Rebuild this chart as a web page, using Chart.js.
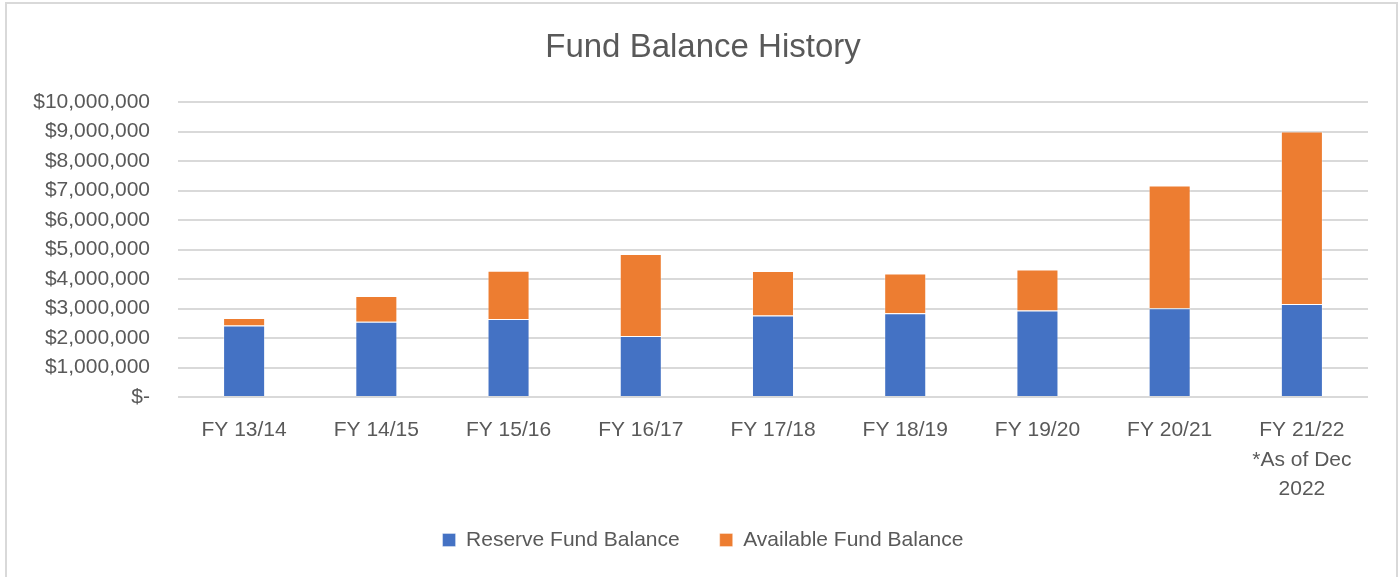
<!DOCTYPE html>
<html>
<head>
<meta charset="utf-8">
<script src="https://cdn.jsdelivr.net/npm/chart.js@4.4.1/dist/chart.umd.min.js"></script>
<style>
  html, body { margin: 0; padding: 0; background: #ffffff; }
  #wrap { position: relative; width: 1400px; height: 577px; overflow: hidden; }
  #frame { position: absolute; left: 5px; top: 2px; width: 1389px; height: 700px;
           border: 2px solid #d9d9d9; box-sizing: content-box; }
  canvas { position: absolute; left: 0; top: 0; }
</style>
</head>
<body>
<div id="wrap">
  <div id="frame"></div>
  <canvas id="c" width="1400" height="577"></canvas>
</div>
<script>
const chartTitle = 'Fund Balance History';
const categories = [
  'FY 13/14', 'FY 14/15', 'FY 15/16', 'FY 16/17', 'FY 17/18',
  'FY 18/19', 'FY 19/20', 'FY 20/21', ['FY 21/22', '*As of Dec', '2022']
];
const reserveLabel = 'Reserve Fund Balance';
const availableLabel = 'Available Fund Balance';
const reserveValues = [2420000, 2550000, 2640000, 2070000, 2760000, 2840000, 2930000, 3010000, 3150000];
const availableValues = [260000, 870000, 1640000, 2780000, 1510000, 1350000, 1390000, 4160000, 5850000];
const yMin = 0;
const yMax = 10000000;
const yStep = 1000000;

const textColor = '#595959';
const fontFamily = "'Liberation Sans', Arial, sans-serif";

Chart.defaults.font.family = fontFamily;
Chart.defaults.color = textColor;

// let tick labels extend past their axis box (no clipping)
const noLabelClip = (scale) => { scale._computeLabelArea = () => null; };

new Chart(document.getElementById('c'), {
  type: 'bar',
  data: {
    labels: categories,
    datasets: [
      {
        label: reserveLabel,
        data: reserveValues,
        backgroundColor: '#4472C4',
        borderColor: 'rgba(255,255,255,0.35)',
        borderWidth: 1,
        categoryPercentage: 1,
        barPercentage: 0.318
      },
      {
        label: availableLabel,
        data: availableValues,
        backgroundColor: '#ED7D31',
        borderColor: 'rgba(255,255,255,0.35)',
        borderWidth: 1,
        categoryPercentage: 1,
        barPercentage: 0.318
      }
    ]
  },
  options: {
    responsive: false,
    animation: false,
    devicePixelRatio: 1,
    layout: { padding: { left: 38, right: 32, top: 0, bottom: 16.5 } },
    plugins: {
      title: {
        display: true,
        text: chartTitle,
        color: textColor,
        font: { size: 33, weight: 'normal', lineHeight: 1.2 },
        padding: { top: 28, bottom: 34.4 }
      },
      legend: {
        display: true,
        position: 'bottom',
        labels: {
          boxWidth: 13,
          boxHeight: 13,
          padding: 40,
          color: textColor,
          font: { size: 21 }
        }
      },
      tooltip: { enabled: false }
    },
    scales: {
      x: {
        stacked: true,
        grid: { display: false, drawTicks: false },
        border: { display: false },
        ticks: {
          color: textColor,
          font: { size: 21, lineHeight: 1.4 },
          padding: 19,
          maxRotation: 0,
          autoSkip: false
        },
        afterFit: (scale) => { scale.height = 92.5; noLabelClip(scale); }
      },
      y: {
        stacked: true,
        min: yMin,
        max: yMax,
        grid: { color: '#d9d9d9', lineWidth: 2, drawTicks: false },
        border: { display: false },
        ticks: {
          stepSize: yStep,
          color: textColor,
          font: { size: 21 },
          padding: 28,
          callback: (v) => v === 0 ? '$-' : '$' + Number(v).toLocaleString('en-US')
        },
        afterFit: (scale) => { scale.width = 140; noLabelClip(scale); }
      }
    }
  }
});
</script>
</body>
</html>
